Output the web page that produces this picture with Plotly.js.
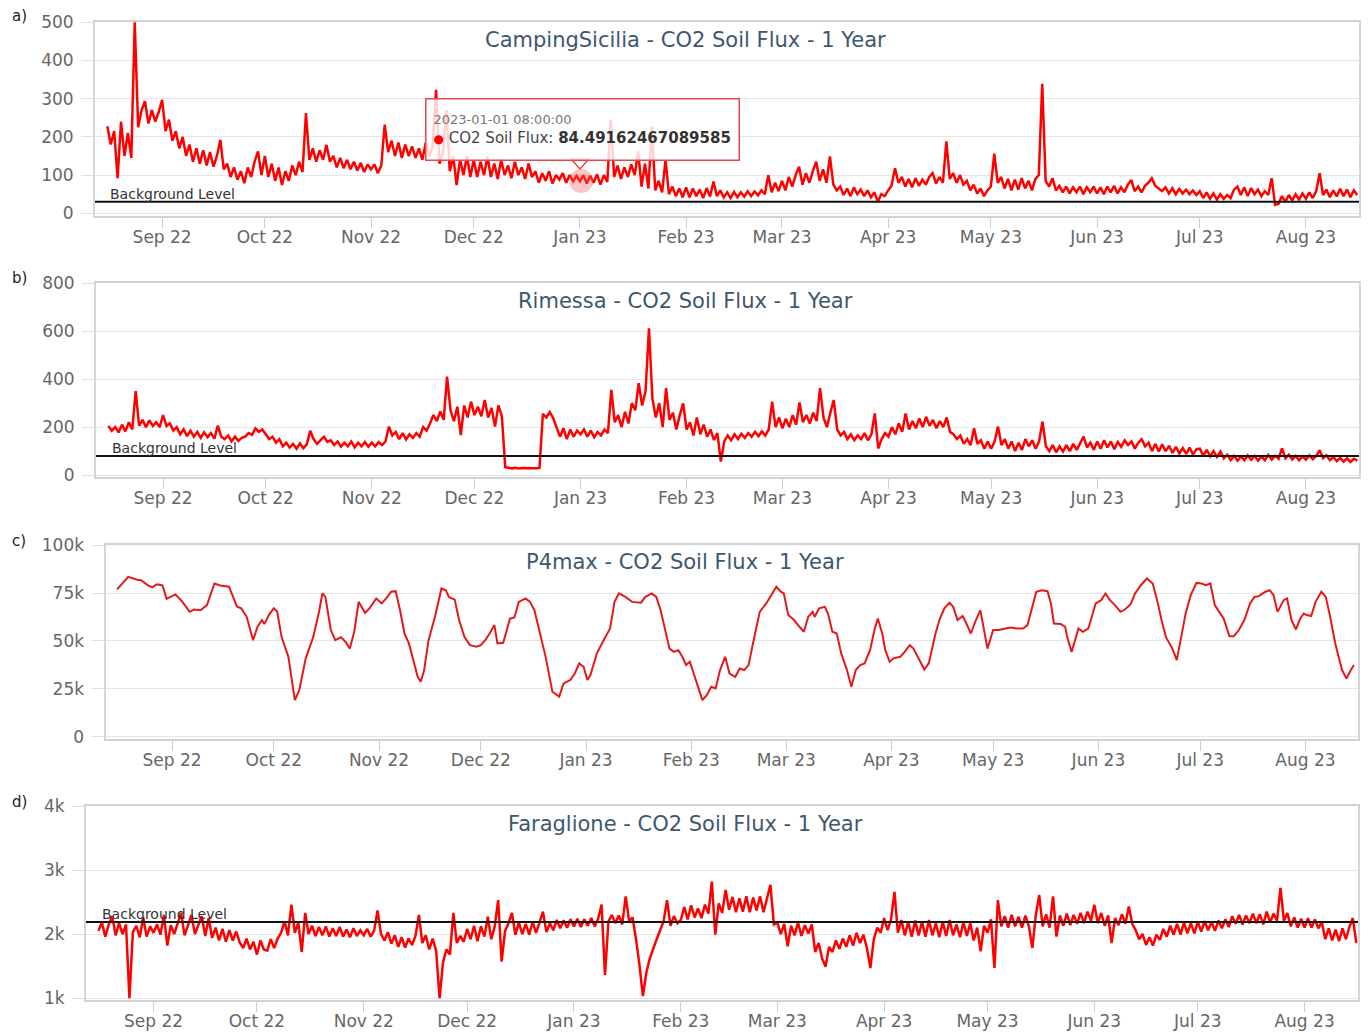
<!DOCTYPE html>
<html>
<head>
<meta charset="utf-8">
<script src="https://cdn.plot.ly/plotly-3.0.1.min.js"></script>
<style>
html,body{margin:0;padding:0;background:#ffffff;}
#chart{width:1370px;height:1032px;}
</style>
</head>
<body>
<div id="chart"></div>
<script>
// ---------------- DATA ----------------
const panelTitles = [
  'CampingSicilia - CO2 Soil Flux - 1 Year',
  'Rimessa - CO2 Soil Flux - 1 Year',
  'P4max - CO2 Soil Flux - 1 Year',
  'Faraglione - CO2 Soil Flux - 1 Year'
];
const panelLetters = ['a)', 'b)', 'c)', 'd)'];
const backgroundLabel = 'Background Level';
const campingBackground = 30;
const rimessaBackground = 80;
const faraglioneBackground = 2190;

// first day of each block of daily readings
const monthStarts = ['2022-08-16','2022-09-01','2022-10-01','2022-11-01','2022-12-01','2023-01-01',
  '2023-02-01','2023-03-01','2023-04-01','2023-05-01','2023-06-01','2023-07-01','2023-08-01'];

// CampingSicilia daily readings, one array per month
const campingFlux = [
  [228,180,215,92,240,150,210,145,500,225,270,293,235,270,240,265],
  [297,215,245,190,215,170,200,150,180,135,170,130,165,125,160,122,150,192,115,130,95,120,88,110,79,120,95,135,162,100],
  [150,95,130,85,120,74,110,85,125,100,135,108,262,140,170,135,165,140,179,135,150,120,145,118,140,115,135,112,132,108,128],
  [115,128,105,125,232,160,190,150,185,145,180,150,175,145,170,140,185,150,175,323,130,160,270,110,150,74,140,100,150,95],
  [140,95,135,100,149,95,130,90,140,100,125,92,135,100,120,90,130,95,110,80,105,85,110,78,100,88,105,80,100,84,98],
  [84,100,78,98,80,102,75,100,82,245,95,125,90,120,95,128,100,162,70,130,65,227,60,85,55,140,50,70,45,65,42],
  [68,42,65,45,62,40,66,44,83,45,60,42,55,40,56,42,55,44,58,45,57,47,60,50,100,55,80,58],
  [85,60,95,70,100,122,75,105,80,110,135,85,115,80,149,75,60,70,48,65,45,68,50,62,45,60,42,55,30,50,45],
  [60,72,118,80,95,70,90,68,92,72,88,75,95,105,78,95,80,188,90,105,80,100,75,85,60,75,52,65,45,60],
  [70,156,80,95,65,90,60,88,62,92,65,85,60,90,100,339,85,70,92,60,72,55,70,52,68,55,70,50,68,55,70],
  [52,68,50,70,55,72,52,68,55,75,87,58,70,55,72,80,92,72,65,58,68,52,66,50,64,52,62,50,60,48],
  [58,40,55,38,52,36,50,38,48,40,62,70,48,68,45,66,50,62,45,58,48,92,22,25,45,30,48,34,50,36,52],
  [38,55,40,58,105,48,62,42,60,44,64,45,62,42,60,48]
];

// Rimessa daily readings, one array per month
const rimessaFlux = [
  [205,185,200,178,210,182,220,190,350,205,230,200,228,205,220,200],
  [250,205,215,185,200,170,190,162,185,160,180,155,178,158,175,152,206,160,150,165,140,160,142,155,160,175,168,195,180,190],
  [170,150,160,135,150,120,135,115,130,110,132,112,128,185,150,130,145,160,138,145,125,140,118,135,120,140,115,135,120,138,118],
  [135,120,138,125,140,202,165,180,150,175,148,170,155,175,160,200,185,215,250,225,265,230,410,270,225,285,167,290,240,306],
  [250,285,245,313,240,280,202,290,245,33,30,28,30,27,29,28,30,27,28,30,255,240,262,238,200,160,195,150,190,160,185],
  [170,190,160,185,158,180,165,190,175,355,220,250,200,264,215,300,270,383,290,350,612,320,240,300,200,362,230,260,190,250,299],
  [190,220,165,240,170,210,160,190,146,175,56,140,165,145,170,150,172,155,175,160,180,162,182,165,190,306,200,240],
  [195,235,200,250,210,303,220,250,215,260,225,362,240,200,260,313,190,165,180,150,170,145,165,150,175,145,170,257,111,150,175],
  [160,200,170,215,180,257,190,225,195,236,200,243,205,230,195,225,200,240,180,170,150,165,130,150,125,195,130,145,110,140],
  [110,140,202,125,150,110,140,100,135,105,150,120,145,110,140,223,120,100,125,95,120,98,125,100,130,105,135,160,115,135,105],
  [140,110,145,115,140,108,138,118,145,125,140,110,135,150,120,135,100,130,98,128,100,122,92,118,90,112,88,115,85,108],
  [110,80,105,78,100,76,98,70,85,62,80,60,78,62,82,64,80,60,78,62,84,65,80,68,111,70,85,65,80,62,78],
  [64,82,66,80,104,70,82,62,76,58,72,56,70,55,68,60]
];

// P4max readings: day = days since 2022-08-01, flux values
const p4maxDay = [
  14.8,18.1,20.7,21.9,23.9,25.2,26.5,28.2,29.4,30.7,
  32.0,33.8,36.2,37.5,39.4,41.3,43.5,45.2,47.8,50.1,
  51.4,53.0,54.9,56.2,57.5,58.2,59.7,61.0,62.0,63.3,
  65.3,67.2,68.5,70.4,72.6,74.3,75.3,76.2,77.8,79.1,
  80.8,82.1,83.4,84.7,86.0,87.9,89.2,91.2,92.8,94.1,
  95.6,96.9,98.2,99.5,100.8,102.1,103.4,104.3,105.3,106.6,
  108.5,110.4,111.7,112.6,114.3,115.6,117.2,118.8,120.7,122.0,
  123.3,124.6,126.0,126.9,128.6,130.6,131.9,133.2,135.2,136.5,
  137.8,139.2,141.1,143.1,145.1,146.4,148.4,149.7,151.0,152.3,
  153.4,154.3,156.2,158.2,160.1,161.4,162.7,164.6,166.6,169.2,
  170.5,172.4,173.7,175.0,176.3,177.6,178.9,180.2,181.4,182.5,
  183.6,184.7,186.0,187.3,188.6,189.9,191.2,192.5,194.0,195.3,
  197.0,198.3,199.6,200.9,202.2,204.2,206.1,208.1,209.1,210.4,
  211.3,212.6,214.3,215.9,217.2,218.5,219.8,220.4,221.7,223.4,
  224.3,225.6,226.9,228.2,229.9,231.2,232.5,233.8,235.1,236.7,
  238.0,239.0,240.3,241.2,242.5,243.6,245.6,246.9,248.4,249.5,
  251.4,252.7,254.0,256.0,257.3,258.6,260.1,261.2,262.5,264.0,
  265.1,266.4,267.9,269.2,270.3,271.3,273.0,274.7,276.6,278.2,
  279.9,281.8,283.1,284.4,285.7,287.3,289.0,290.0,290.9,292.9,
  294.2,294.8,296.1,297.4,298.1,299.4,301.0,301.9,303.2,304.8,
  306.1,307.4,308.9,310.5,311.8,313.5,314.8,316.5,318.3,320.0,
  321.3,322.6,323.9,325.8,327.1,328.4,329.7,331.2,332.9,334.4,
  335.7,337.0,338.3,339.6,340.9,342.6,343.9,345.4,347.0,348.7,
  350.0,351.3,353.2,354.5,355.6,356.8,358.6,359.6,360.9,362.2,
  363.5,364.5,365.4,366.7,368.0,369.7,371.0,372.3,373.8,375.8,
  377.1,378.4,379.3
];
const p4maxFlux = [
  76900,83500,82000,81700,79000,78000,79600,79000,72000,73000,
  74300,71000,65200,66400,66000,68700,80000,79000,78300,68000,
  67000,62600,50400,57400,60900,58800,64000,67000,65200,52000,
  41700,19100,24300,40900,52000,65000,74800,73000,55700,50400,
  52000,49600,46000,54800,70400,64700,67000,72200,69600,72200,
  75700,76000,66000,53900,48700,40000,31300,28700,34800,50400,
  62600,77400,76500,73000,71600,60900,52000,47800,47000,47800,
  50400,53900,58300,48700,49000,61700,62300,70400,72200,70400,
  66000,55700,41700,23500,20900,27800,29600,33000,38300,36500,
  29600,32200,43500,50400,56500,70400,74800,73000,70400,70000,
  73000,74800,73000,66000,55700,46000,44300,45200,41700,37400,
  39100,33000,26100,19100,21700,26100,25200,34800,41700,33000,
  31300,35600,34800,37400,48700,65200,69600,75700,78300,75700,
  74800,63500,60900,57400,54800,62600,65200,62600,67000,67800,
  64300,54800,53900,43500,34800,26100,34800,37400,38300,45200,
  55700,61700,53900,45200,39100,40900,41700,44300,47800,46000,
  39100,35100,38300,53900,61700,67000,70000,67800,60900,63000,
  59100,53900,60900,66000,55700,46000,55700,55700,56500,57000,
  56500,56500,58300,67000,75700,76500,76000,69600,59100,58800,
  57400,52000,44300,52000,56500,54800,56500,61700,69600,71300,
  74800,71300,68700,65200,66400,69200,74800,79100,82600,80000,
  71300,60900,52000,46000,40000,52000,64300,73900,80300,80000,
  79100,80000,68700,65200,61700,52500,52500,55700,60900,69600,
  73000,73400,75700,76500,73900,65200,71300,72200,60900,56000,
  61700,64300,63500,63000,70400,75700,73000,62600,48700,34800,
  30400,34800,37400
];

// Faraglione daily readings, one array per month
const faraglioneFlux = [
  [2050,2180,1960,2150,2280,1980,2170,2000,2150,1000,2030,2130,1950,2260,1960,2120],
  [2020,2150,1990,2300,1820,2140,2000,2160,2330,1980,2150,2300,2000,2140,2280,1970,2250,1940,2100,1900,2080,1880,2060,1900,2040,1870,1780,1930,1760,1880],
  [1680,1900,1760,1740,1920,1780,1930,2020,2200,1980,2460,2020,2180,1720,2330,2000,2130,1970,2110,1980,2120,1960,2090,1970,2110,1960,2070,1950,2090,1970,2060],
  [1980,2080,1960,2050,2370,2000,1900,2030,1850,1980,1800,1950,1790,1930,1830,1970,2300,1860,1980,1760,1930,1740,1000,1560,1760,1680,2330,1860,1970,1880],
  [2080,1920,2130,1890,2120,1960,2270,1920,2120,2530,1570,2050,2170,2330,1990,2180,2000,2160,1990,2190,2020,2180,2350,2030,2170,2060,2220,2090,2210,2100,2230],
  [2120,2240,2110,2230,2130,2250,2120,2240,2460,1360,2200,2300,2170,2290,2150,2590,2200,2260,1920,1520,1030,1400,1620,1780,1920,2060,2200,2530,2130,2280,2170],
  [2220,2420,2230,2450,2260,2400,2250,2460,2320,2820,1990,2480,2330,2690,2380,2580,2340,2560,2350,2590,2340,2570,2370,2590,2340,2560,2770,2150],
  [2180,2000,2160,1810,2130,1980,2180,1970,2140,2010,2150,1720,1860,1620,1490,1800,1720,1900,1770,1930,1800,1980,1820,2020,1860,1990,1780,1470,1920,2100,2020],
  [2250,2060,2230,2660,2020,2220,1980,2190,1960,2210,1980,2190,1960,2220,1980,2170,1950,2190,1970,2220,1980,2150,1950,2190,1970,2170,1900,2100,1730,2130],
  [2020,2230,1470,2530,2120,2280,2100,2300,2120,2270,2100,2290,2120,1780,2290,2610,2120,2310,2100,2590,1960,2290,2130,2320,2140,2300,2160,2330,2170,2350,2210],
  [2456,2170,2330,2130,2290,1860,2250,2140,2310,2160,2430,2160,2060,1920,2000,1830,1950,1820,1990,1910,2080,1960,2130,1990,2160,1990,2180,2010,2170,2010],
  [2190,2040,2200,2060,2190,2050,2210,2090,2230,2110,2280,2160,2300,2150,2290,2170,2320,2170,2310,2150,2350,2180,2320,2210,2720,2210,2330,2120,2260,2100,2240],
  [2100,2250,2100,2230,2090,2190,1920,2090,1900,2070,1890,2090,1920,2110,2250,1860]
];

// tooltip shown in panel a
const hoverTime = '2023-01-01 08:00:00';
const hoverValue = 84.49162467089585;
const hoverSeriesName = 'CO2 Soil Flux';

// ---------------- BUILD ----------------
const FONT = '"DejaVu Sans", Verdana, sans-serif';
const W = 1370, H = 1032;
const DAY = 86400000;
const EPOCH = Date.UTC(2022, 7, 1);

function fmt(ms) {
  return new Date(ms).toISOString().slice(0, 16).replace('T', ' ');
}
function dailySeries(monthArrays) {
  const x = [], y = [];
  monthArrays.forEach((vals, i) => {
    const start = Date.parse(monthStarts[i] + 'T00:00:00Z');
    vals.forEach((v, j) => { x.push(fmt(start + j * DAY)); y.push(v); });
  });
  return {x, y};
}
const sA = dailySeries(campingFlux);
const sB = dailySeries(rimessaFlux);
const sD = dailySeries(faraglioneFlux);
const p4maxX = p4maxDay.map(d => fmt(EPOCH + d * DAY));

const xRange = [fmt(EPOCH + 11.4 * DAY), fmt(EPOCH + 380.5 * DAY)];

// plot boxes in pixels
const boxes = [
  {l: 95,    r: 1359, t: 22,  b: 216},
  {l: 96,    r: 1359, t: 283, b: 477},
  {l: 105.5, r: 1358, t: 545, b: 739},
  {l: 86,    r: 1358, t: 806, b: 1000}
];
const yRanges = [[-7, 500.5], [-8, 800.5], [-1200, 100100], [970, 4001]];
const yDticks = [100, 200, 25000, 1000];
const titleY = [40, 301, 562, 824];
const letterY = [16, 278, 541, 802];

const px = v => v / W;
const py = v => 1 - v / H;

const layout = {
  width: W, height: H,
  margin: {l: 0, r: 0, t: 0, b: 0},
  paper_bgcolor: '#ffffff',
  plot_bgcolor: '#ffffff',
  showlegend: false,
  hovermode: false,
  font: {family: FONT, color: '#333'},
  annotations: [],
  shapes: []
};

boxes.forEach((b, i) => {
  const n = i === 0 ? '' : String(i + 1);
  layout['xaxis' + n] = {
    domain: [px(b.l), px(b.r)],
    anchor: 'y' + n,
    type: 'date',
    range: xRange,
    tick0: '2022-09-01',
    dtick: 'M1',
    tickformat: '%b %y',
    ticks: 'outside',
    ticklen: 10,
    tickwidth: 1,
    tickcolor: '#c0d0e0',
    ticklabelstandoff: -5,
    showgrid: false,
    zeroline: false,
    showline: true,
    linecolor: '#cfd3d8',
    linewidth: 2,
    mirror: true,
    tickfont: {family: FONT, size: 17, color: '#666'},
    fixedrange: true
  };
  layout['yaxis' + n] = {
    domain: [py(b.b), py(b.t)],
    anchor: 'x' + n,
    range: yRanges[i],
    tick0: 0,
    dtick: yDticks[i],
    tickformat: '~s',
    ticks: 'outside',
    ticklen: 12,
    tickwidth: 1,
    tickcolor: '#e0e0e0',
    ticklabelstandoff: 4,
    showgrid: true,
    gridcolor: '#e6e6e6',
    gridwidth: 1,
    zeroline: false,
    showline: true,
    linecolor: '#d6d6d6',
    linewidth: 2,
    mirror: true,
    tickfont: {family: FONT, size: 17, color: '#666'},
    fixedrange: true
  };
  layout.annotations.push({
    text: panelTitles[i], xref: 'paper', yref: 'paper',
    x: 0.5, y: py(titleY[i]), xanchor: 'center', yanchor: 'middle',
    showarrow: false, font: {family: FONT, size: 21, color: '#3e576f'}
  });
  layout.annotations.push({
    text: panelLetters[i], xref: 'paper', yref: 'paper',
    x: px(10), y: py(letterY[i]), xanchor: 'left', yanchor: 'middle',
    showarrow: false, font: {family: FONT, size: 15, color: '#222'}
  });
});

// background level lines + labels
const bgDefs = [
  {n: '', level: campingBackground, lx: 108},
  {n: '2', level: rimessaBackground, lx: 110},
  {n: '4', level: faraglioneBackground, lx: 100}
];
bgDefs.forEach(d => {
  layout.shapes.push({
    type: 'line', xref: 'x' + d.n + ' domain', yref: 'y' + d.n,
    x0: 0, x1: 1, y0: d.level, y1: d.level,
    line: {color: '#111', width: 2}, layer: 'above'
  });
  layout.annotations.push({
    text: backgroundLabel, xref: 'paper', yref: 'y' + d.n,
    x: px(d.lx), y: d.level, xanchor: 'left', yanchor: 'bottom', yshift: -2,
    showarrow: false, font: {family: FONT, size: 14, color: '#333'}
  });
});

// tooltip
const tipL = 425, tipT = 98, tipW = 314, tipH = 62;
layout.annotations.push({
  text: '<span style="font-size:13px;color:#777">' + hoverTime + '</span><br>' +
        '<span style="color:#ff0000;font-size:12px">\u25CF</span> <span style="color:#444">' + hoverSeriesName + ': </span>' +
        '<b>' + String(hoverValue) + '</b>',
  xref: 'paper', yref: 'paper',
  x: px(tipL), y: py(tipT), xanchor: 'left', yanchor: 'top',
  width: tipW - 16, height: tipH - 16, borderpad: 7,
  align: 'left', valign: 'middle',
  bgcolor: 'rgba(255,255,255,0.82)', bordercolor: '#e8474a', borderwidth: 1.5,
  showarrow: false, font: {family: FONT, size: 15, color: '#333'}
});
const notchX = 580;
layout.shapes.push({
  type: 'path', xref: 'paper', yref: 'paper',
  path: 'M ' + px(notchX - 9) + ' ' + py(tipT + tipH - 1) + ' L ' + px(notchX) + ' ' + py(tipT + tipH + 9) +
        ' L ' + px(notchX + 9) + ' ' + py(tipT + tipH - 1) + ' Z',
  fillcolor: 'rgba(255,255,255,0.9)', line: {color: '#e8474a', width: 1.5}, layer: 'above'
});

const lineRed = {color: '#ff0000', width: 2.5};
const traces = [
  {type: 'scatter', mode: 'lines', x: sA.x, y: sA.y, xaxis: 'x', yaxis: 'y', line: lineRed},
  {type: 'scatter', mode: 'lines', x: sB.x, y: sB.y, xaxis: 'x2', yaxis: 'y2', line: lineRed},
  {type: 'scatter', mode: 'lines', x: p4maxX, y: p4maxFlux, xaxis: 'x3', yaxis: 'y3', line: {color: '#e3191b', width: 2}},
  {type: 'scatter', mode: 'lines', x: sD.x, y: sD.y, xaxis: 'x4', yaxis: 'y4', line: lineRed},
  {type: 'scatter', mode: 'markers', x: [hoverTime], y: [hoverValue], xaxis: 'x', yaxis: 'y',
   marker: {size: 24, color: 'rgba(255,90,90,0.35)', line: {width: 0}}}
];

Plotly.newPlot('chart', traces, layout, {displayModeBar: false, staticPlot: true});
</script>
</body>
</html>
